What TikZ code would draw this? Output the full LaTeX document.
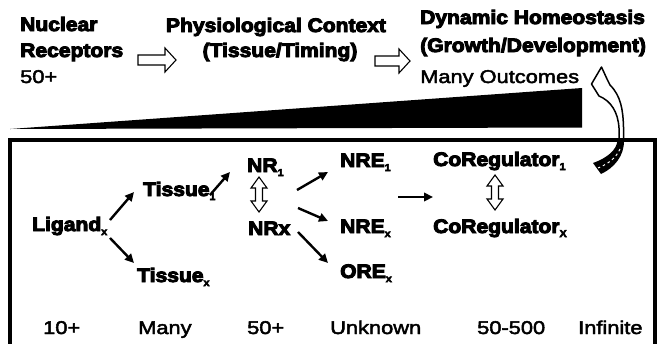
\documentclass[tikz,border=0pt]{standalone}
\usepackage{fontspec}
\usetikzlibrary{arrows.meta}
\newfontfamily\hb[FakeStretch=1.08,FakeBold=5]{Liberation Sans Bold}
\newfontfamily\hm[FakeStretch=1.18,FakeBold=2.5]{Liberation Sans}
\newcommand\sbx[1]{\raisebox{-4pt}{\fontsize{10}{10}\selectfont #1}}
\tikzset{
  bt/.style={font=\hb\fontsize{19.5}{20}\selectfont, inner sep=0pt, anchor=base west},
  mt/.style={font=\hm\fontsize{18.5}{20}\selectfont, inner sep=0pt, anchor=base west},
  harr/.style={draw=black, line width=1.1pt, fill=white, line join=miter},
  carr/.style={draw=black, line width=1.5pt, fill=white, line join=round},
  arr/.style={line width=2.4pt, -{Triangle[length=9pt,width=8.5pt]}},
}
\begin{document}
\begin{tikzpicture}[x=1pt,y=-1pt]
\useasboundingbox (0,0) rectangle (659,343);
\clip (0,0) rectangle (659,343);
\fill[white] (0,0) rectangle (659,343);
% top texts
\node[bt] (nuc) at (20,31) {Nuclear};
\node[bt] (rec) at (20,57) {Receptors};
\node[mt] (n50) at (20,83) {50+};
\node[bt, anchor=base] (phys) at (276,32) {Physiological Context};
\node[bt, anchor=base] (tim) at (280,57) {(Tissue/Timing)};
\node[bt] (dyn) at (420,24) {Dynamic Homeostasis};
\node[bt] (gro) at (420,52) {(Growth/Development)};
\node[mt] (out) at (420,83) {Many Outcomes};
% hollow arrows top
\draw[harr] (138,55) -- (165,55) -- (165,48) -- (176,60) -- (165,72) -- (165,65) -- (138,65) -- cycle;
\draw[harr] (375,56) -- (399,56) -- (399,49) -- (410,61) -- (399,73) -- (399,66) -- (375,66) -- cycle;
% wedge
\fill[black] (10,129) -- (582,88) -- (582,127.5) -- cycle;
% curved arrow
\draw[carr] (601.5,67) -- (591.5,84) -- (599,96) .. controls (611,101) and (618,112) .. (619,128) -- (619,141) -- (623.5,141) -- (623.5,127) .. controls (623,110) and (621,96) .. (610,85) -- (607,79) -- cycle;
\fill[black] (617.5,140) -- (624,140) .. controls (624.5,156) and (614,168) .. (601,174) -- (593,163) .. controls (607,158) and (617,150) .. (617.5,140) -- cycle;
\draw[white, line width=1pt, dash pattern=on 2.5pt off 3pt] (620,149) .. controls (616,158) and (608,164) .. (598,168);
% box
\draw[line width=3.5pt] (10,350) -- (10,140) -- (655,140) -- (655,350);
% box texts
\node[bt] (lig) at (32,231) {Ligand\sbx{x}};
\node[bt] (t1) at (143,196) {Tissue\sbx{1}};
\node[bt] (tx) at (137,282) {Tissue\sbx{x}};
\node[bt] (nr1) at (247,172) {NR\sbx{1}};
\node[bt] (nrx) at (248,235) {NRx};
\node[bt] (nre1) at (340,167) {NRE\sbx{1}};
\node[bt] (nrex) at (340,233) {NRE\sbx{x}};
\node[bt] (orex) at (340,278) {ORE\sbx{x}};
\node[bt] (co1) at (433,166) {CoRegulator\sbx{1}};
\node[bt] (cox) at (433,233) {CoRegulator\sbx{X}};
% bottom row
\node[mt] (b1) at (43,334) {10+};
\node[mt] (b2) at (138,334) {Many};
\node[mt] (b3) at (247,334) {50+};
\node[mt] (b4) at (330,334) {Unknown};
\node[mt] (b5) at (477,334) {50-500};
\node[mt] (b6) at (578,334) {Infinite};
% arrow end points
\coordinate (p1s) at (110,220); \coordinate (p1e) at (134,192);
\coordinate (p2s) at (110,238); \coordinate (p2e) at (134,263);
\coordinate (p3s) at (210,195); \coordinate (p3e) at (230,172);
\coordinate (p4s) at (297,190); \coordinate (p4e) at (328,172);
\coordinate (p5s) at (298,208); \coordinate (p5e) at (328,221);
\coordinate (p6s) at (298,232); \coordinate (p6e) at (328,263);
\coordinate (p7s) at (398,197); \coordinate (p7e) at (433,197);
\draw[arr] (p1s) -- (p1e);
\draw[arr] (p2s) -- (p2e);
\draw[arr] (p3s) -- (p3e);
\draw[arr] (p4s) -- (p4e);
\draw[arr] (p5s) -- (p5e);
\draw[arr] (p6s) -- (p6e);
\draw[arr] (p7s) -- (p7e);
% vertical hollow double arrows
\draw[harr] (259,177) -- (267,188) -- (262.5,188) -- (262.5,201) -- (267,201) -- (259,212) -- (251,201) -- (255.5,201) -- (255.5,188) -- (251,188) -- cycle;
\draw[harr] (495,175) -- (503,186) -- (498.5,186) -- (498.5,199) -- (503,199) -- (495,210) -- (487,199) -- (491.5,199) -- (491.5,186) -- (487,186) -- cycle;
\end{tikzpicture}
\end{document}
